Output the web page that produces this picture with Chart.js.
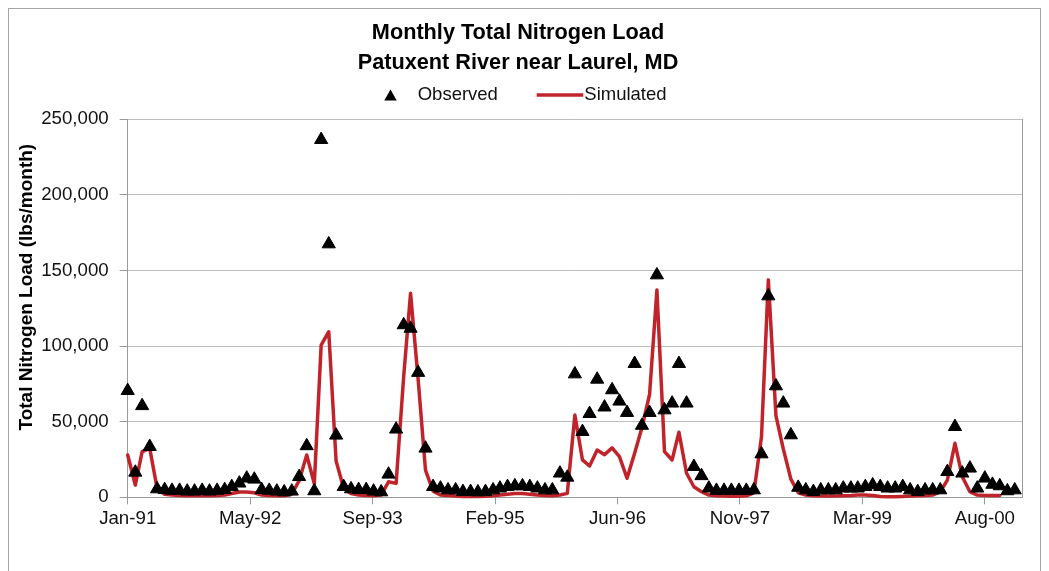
<!DOCTYPE html>
<html>
<head>
<meta charset="utf-8">
<title>Monthly Total Nitrogen Load</title>
<script src="https://cdn.jsdelivr.net/npm/chart.js@4.4.1/dist/chart.umd.min.js"></script>
<style>
  html, body { margin: 0; padding: 0; background: #fff; }
  canvas { display: block; }
</style>
</head>
<body>
<canvas id="loadChart" width="1049" height="571"></canvas>
<script>
// monthly values, Jan-91 through Dec-00 (lbs/month)
const startYear = 1991;
const monthCount = 120;

const observed = [
  70500, 16500, 60500, 33500, 5500, 5000, 4500, 4500, 4000, 4000, 4500, 4000,
  4500, 5000, 7000, 9300, 12600, 11900, 5000, 4500, 4000, 3500, 4000, 13600,
  34000, 4200, 236500, 167500, 41000, 7000, 5500, 5000, 5000, 4000, 3500, 15200,
  45000, 114000, 111700, 82500, 32400, 7000, 6000, 4800, 4800, 3700, 3700, 3500,
  3700, 4800, 6000, 7000, 7500, 7500, 7000, 6000, 4800, 4800, 15900, 13200,
  81500, 43400, 55300, 78000, 59600, 71000, 63500, 56000, 88400, 47500, 56000, 147000,
  57700, 62200, 88400, 62200, 20300, 14200, 6000, 4500, 4500, 4500, 4500, 4500,
  4800, 28600, 133100, 73600, 62200, 41200, 6500, 4800, 3700, 4800, 4800, 4800,
  6000, 6000, 6000, 7000, 8100, 7000, 6000, 6000, 7000, 4800, 3700, 4800,
  4800, 4800, 16900, 46700, 15900, 19200, 6000, 12600, 8500, 7500, 4200, 4800
];

const simulated = [
  28000, 8100, 30200, 32400, 6000, 2000, 1500, 1200, 1000, 1000, 1000, 1000,
  1200, 1500, 2500, 3500, 3500, 3000, 1500, 1200, 1000, 1000, 2000, 11000,
  28000, 9000, 100700, 109500, 24000, 6000, 2500, 1500, 1200, 1000, 1500, 10300,
  9200, 80000, 134900, 78000, 18000, 4000, 1500, 1200, 800, 500, 500, 500,
  700, 1000, 1500, 2000, 2500, 2500, 2000, 1500, 1200, 1000, 1500, 2600,
  54400, 24700, 20700, 31300, 28200, 32700, 26900, 12600, 29100, 46200, 68000, 137100,
  30200, 24700, 43000, 15900, 7000, 3700, 1500, 1000, 800, 700, 700, 1000,
  3000, 40000, 143800, 54000, 32000, 12000, 3000, 1500, 1000, 800, 800, 800,
  1000, 1200, 1500, 1500, 1200, 500, 300, 300, 500, 800, 1000, 1200,
  1500, 3700, 11400, 35700, 13600, 3700, 1500, 1200, 1200, 1200, null, null
];

// x axis ticks: every 500 days from 1 Jan 1991
const tickDays = [0, 500, 1000, 1500, 2000, 2500, 3000, 3500];
const tickLabels = ['Jan-91', 'May-92', 'Sep-93', 'Feb-95', 'Jun-96', 'Nov-97', 'Mar-99', 'Aug-00'];

const DAY = 86400000;
const origin = Date.UTC(startYear, 0, 1);
const monthDays = [];
for (let i = 0; i < monthCount; i++) {
  monthDays.push((Date.UTC(startYear, i, 1) - origin) / DAY);
}
const axisEnd = (Date.UTC(startYear + 10, 0, 1) - origin) / DAY;

const RED = '#c1232b';
const AXIS_GRAY = '#9a9a9a';
const GRID_GRAY = '#bdbdbd';

Chart.defaults.font.family = "'Liberation Sans', Arial, sans-serif";
Chart.defaults.color = '#111';

// frame round the whole chart
const framePlugin = {
  id: 'frame',
  beforeDraw(chart) {
    const ctx = chart.ctx;
    ctx.save();
    ctx.fillStyle = '#fff';
    ctx.fillRect(0, 0, chart.width, chart.height);
    ctx.strokeStyle = '#a6a6a6';
    ctx.lineWidth = 1;
    ctx.strokeRect(8.5, 8.5, 1032, 600);
    ctx.restore();
  }
};

// legend row under the title
const legendPlugin = {
  id: 'rowLegend',
  afterDraw(chart) {
    const ctx = chart.ctx;
    const cx = (chart.titleBlock.left + chart.titleBlock.right) / 2;
    const y = 95;
    const sets = chart.data.datasets;
    ctx.save();
    ctx.font = "18.5px 'Liberation Sans', Arial, sans-serif";
    ctx.textBaseline = 'middle';

    // observed: triangle
    const tx = cx - 127.5, ty = y + 1.8, r = 7.2;
    ctx.beginPath();
    ctx.moveTo(tx, ty - r);
    ctx.lineTo(tx + r * Math.sin(2 * Math.PI / 3), ty + r / 2);
    ctx.lineTo(tx - r * Math.sin(2 * Math.PI / 3), ty + r / 2);
    ctx.closePath();
    ctx.fillStyle = '#000';
    ctx.fill();
    ctx.fillStyle = '#111';
    ctx.fillText(sets[0].label, cx - 100.3, y);

    // simulated: line
    ctx.strokeStyle = RED;
    ctx.lineWidth = 3.5;
    ctx.beginPath();
    ctx.moveTo(cx + 18.7, y);
    ctx.lineTo(cx + 65.3, y);
    ctx.stroke();
    ctx.fillText(sets[1].label, cx + 66.3, y);
    ctx.restore();
  }
};

const ctx = document.getElementById('loadChart').getContext('2d');
const chart = new Chart(ctx, {
  type: 'line',
  data: {
    datasets: [
      {
        label: 'Observed',
        data: observed.map((v, i) => ({ x: monthDays[i], y: v })),
        showLine: false,
        pointStyle: 'triangle',
        pointRadius: 7.6,
        pointBackgroundColor: '#000',
        pointBorderColor: '#000',
        pointBorderWidth: 1,
        clip: false,
        yAxisID: 'y',
        order: 0
      },
      {
        label: 'Simulated',
        data: simulated.map((v, i) => ({ x: monthDays[i], y: v })),
        borderColor: RED,
        borderWidth: 3.5,
        borderJoinStyle: 'round',
        borderCapStyle: 'round',
        pointRadius: 0,
        tension: 0,
        fill: false,
        spanGaps: false,
        clip: false,
        yAxisID: 'y',
        order: 1
      }
    ]
  },
  options: {
    responsive: false,
    animation: false,
    layout: { padding: { left: 0, right: 13, top: 0, bottom: 0 } },
    plugins: {
      legend: { display: false },
      tooltip: { enabled: false },
      title: {
        display: true,
        text: ['Monthly Total Nitrogen Load', 'Patuxent River near Laurel, MD'],
        color: '#000',
        font: { size: 21.7, weight: 'bold', lineHeight: 30 / 21.7 },
        padding: { top: 18, bottom: 41.3 }
      }
    },
    scales: {
      x: {
        type: 'linear',
        min: 0,
        max: axisEnd,
        afterBuildTicks: (scale) => {
          scale.ticks = tickDays.map(v => ({ value: v }));
        },
        afterFit: (scale) => { scale.height = 73.7; },
        ticks: {
          autoSkip: false,
          maxRotation: 0,
          padding: 3,
          font: { size: 18.7 },
          callback: (value, index) => tickLabels[index]
        },
        grid: { drawOnChartArea: false, drawTicks: true, tickLength: 7, color: AXIS_GRAY },
        border: { color: AXIS_GRAY }
      },
      y: {
        position: 'left',
        min: 0,
        max: 250000,
        afterFit: (scale) => { scale.width = 127.7; },
        ticks: {
          stepSize: 50000,
          padding: 11,
          font: { size: 18.7 },
          callback: (value) => value.toLocaleString('en-US')
        },
        grid: { color: GRID_GRAY, tickColor: AXIS_GRAY, tickLength: 8 },
        border: { color: AXIS_GRAY },
        title: {
          display: true,
          text: '        Total Nitrogen Load (lbs/month)',
          color: '#000',
          font: { size: 19, weight: 'bold' },
          padding: { top: 15.6, bottom: 0 }
        }
      },
      yR: {
        type: 'linear',
        position: 'right',
        afterFit: (scale) => { scale.width = 13.7; },
        ticks: { display: false },
        grid: { display: false, drawTicks: false },
        border: { display: true, color: AXIS_GRAY }
      }
    }
  },
  plugins: [framePlugin, legendPlugin]
});
</script>
</body>
</html>
